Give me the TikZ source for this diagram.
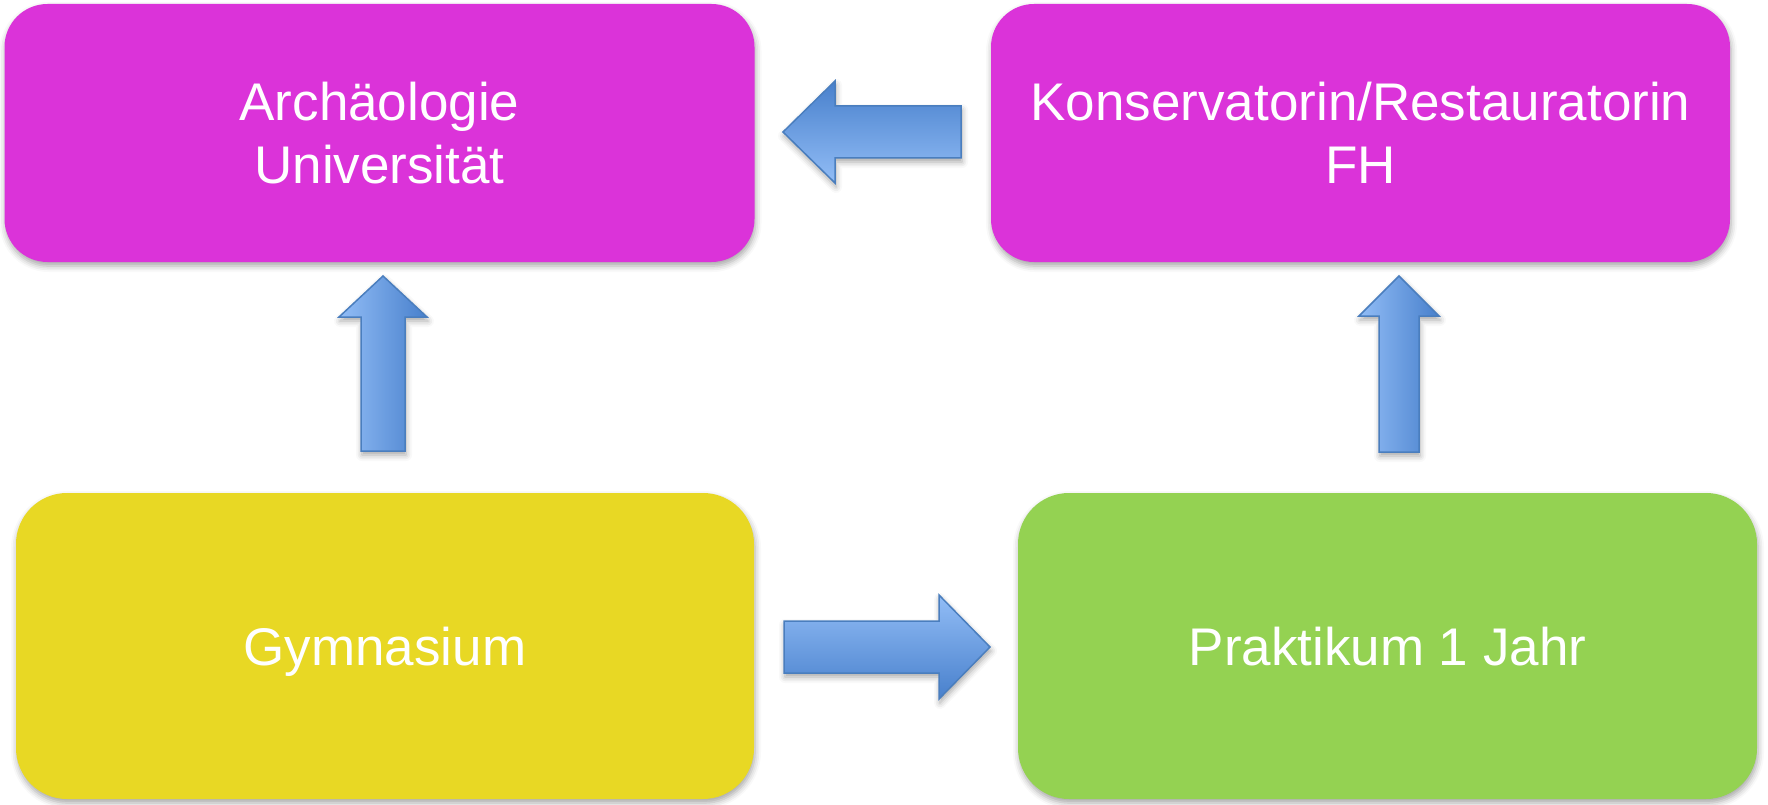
\documentclass[tikz,border=0pt]{standalone}
\usepackage{fontspec}
\setmainfont{Liberation Sans}
\usetikzlibrary{shadows.blur}
\definecolor{magbox}{RGB}{219,51,217}
\definecolor{yelbox}{RGB}{232,216,36}
\definecolor{grnbox}{RGB}{148,210,82}
\definecolor{arrlight}{RGB}{146,189,246}
\definecolor{arrdark}{RGB}{72,128,204}
\definecolor{arredge}{RGB}{74,126,190}
\begin{document}
\begin{tikzpicture}[x=1pt,y=-1pt,
  softshadow/.style={blur shadow={shadow xshift=1pt, shadow yshift=-4pt, shadow blur radius=6pt, shadow opacity=35}},
  box/.style={rounded corners=#1, text=white, font=\fontsize{53}{63}\selectfont, align=center, inner sep=0pt, softshadow},
  oneline/.style={text height=38pt, text depth=0pt},
  blockarrow/.style={draw=arredge, line width=1.5pt, line join=miter, softshadow}]
\useasboundingbox (0,0) rectangle (1768,805);

\node[box=43pt, fill=magbox, minimum width=750pt, minimum height=258pt] (arch) at (379.5,133) {Archäologie\\Universität};
\node[box=43pt, fill=magbox, minimum width=739pt, minimum height=258pt] (kons) at (1360.5,133) {Konservatorin/Restauratorin\\FH};
\node[box=51pt, oneline, fill=yelbox, minimum width=738pt, minimum height=306pt] (gym) at (385,646) {Gymnasium};
\node[box=51pt, oneline, fill=grnbox, minimum width=739pt, minimum height=306pt] (prak) at (1387.5,646) {Praktikum 1 Jahr};

% left arrow (kons -> arch)
\shade[blockarrow, top color=arrdark, bottom color=arrlight]
  (783,132) -- (835,81) -- (835,106) -- (961,106) -- (961,158) -- (835,158) -- (835,183) -- cycle;
% up arrow (gym -> arch)
\shade[blockarrow, left color=arrlight, right color=arrdark]
  (383,276) -- (427,317) -- (405,317) -- (405,451) -- (361,451) -- (361,317) -- (339,317) -- cycle;
% up arrow (prak -> kons)
\shade[blockarrow, left color=arrlight, right color=arrdark]
  (1399,276) -- (1439,316) -- (1419,316) -- (1419,452) -- (1379,452) -- (1379,316) -- (1359,316) -- cycle;
% right arrow (gym -> prak)
\shade[blockarrow, top color=arrlight, bottom color=arrdark]
  (990,647) -- (939,595) -- (939,621) -- (784,621) -- (784,673) -- (939,673) -- (939,699) -- cycle;
\end{tikzpicture}
\end{document}
